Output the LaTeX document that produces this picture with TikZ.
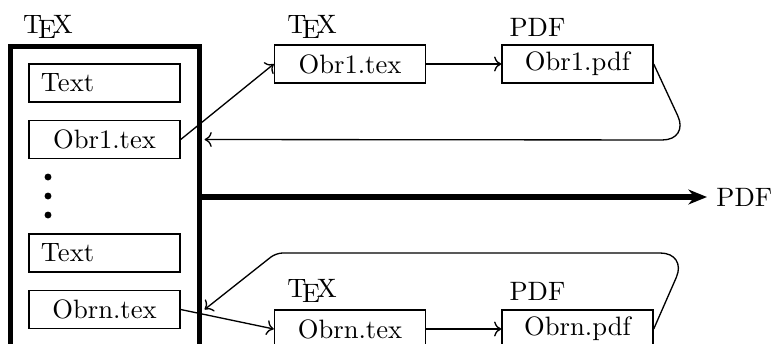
\documentclass[tikz,border=0pt]{standalone}
\usetikzlibrary{arrows.meta,calc}
\begin{document}
\begin{tikzpicture}[x=0.376pt,y=-0.376pt,
  sbox/.style={draw,line width=0.5pt,text width=47.8pt,inner xsep=4.5pt,inner ysep=0pt,minimum height=14.3pt},
  thin/.style={line width=0.5pt},
  lbl/.style={anchor=base,inner sep=0pt}]
\useasboundingbox (0,0) rectangle (774,343);
\clip (0,0) rectangle (774,343);
% big box
\node[draw,line width=1.9pt,minimum width=71.1pt,minimum height=117.9pt,inner sep=0pt] (bigbox) at (105,203) {};
\coordinate (be) at ([xshift=0.95pt]bigbox.east);
\node[lbl] (texL) at (48,33) {\TeX};
% inner boxes
\node[sbox,align=left] (text1) at (104.5,83) {Text};
\node[sbox,align=center] (obr1s) at (104.5,139.5) {Obr1.tex};
\fill (48,177) circle (1.3pt) (48,196) circle (1.3pt) (48,215) circle (1.3pt);
\node[sbox,align=left] (text2) at (104.5,253) {Text};
\node[sbox,align=center] (obrns) at (104.5,309.5) {Obrn.tex};
% top chain
\node[sbox,align=center] (obr1t) at (350,64) {Obr1.tex};
\node[sbox,align=center] (obr1p) at (577.5,64) {Obr1.pdf};
\node[lbl] (texT) at (312,33) {\TeX};
\node[lbl] (pdfT) at (537.5,36) {PDF};
% bottom chain
\node[sbox,align=center] (obrnt) at (350,329) {Obrn.tex};
\node[sbox,align=center] (obrnp) at (577.5,329) {Obrn.pdf};
\node[lbl] (texB) at (312,297) {\TeX};
\node[lbl] (pdfB) at (537.5,300) {PDF};
% output
\node[anchor=west] (pdfout) at (707,197) {PDF};
\draw[line width=1.9pt,-{Stealth[length=7pt,width=5.6pt]}] (bigbox.east |- pdfout.west) -- (pdfout.west);
% connectors
\coordinate (c1) at (689,140);
\coordinate (c2) at (687,253);
\coordinate (c3) at (276,253);
\draw[thin,->] (obr1s.east) -- (obr1t.west);
\draw[thin,->] (obr1t.east) -- (obr1p.west);
\draw[thin,->,rounded corners=10pt] (obr1p.east) -- (c1) -- (be |- obr1s.east);
\draw[thin,->] (obrns.east) -- (obrnt.west);
\draw[thin,->] (obrnt.east) -- (obrnp.west);
\draw[thin,->,rounded corners=10pt] (obrnp.east) -- (c2) [rounded corners=2.5pt] -- (c3) -- (be |- obrns.east);
\end{tikzpicture}
\end{document}
